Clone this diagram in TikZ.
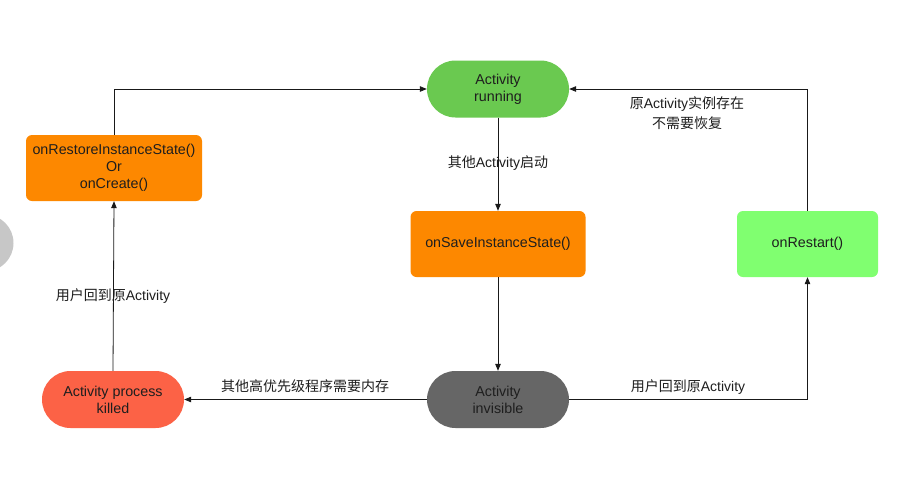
\documentclass[tikz,border=0pt]{standalone}
\usepackage{fontspec}
\setmainfont{Liberation Sans}
\newfontfamily\cjk{Noto Sans CJK SC}
\usetikzlibrary{arrows.meta}
\definecolor{rungreen}{RGB}{106,201,80}
\definecolor{boxorange}{RGB}{253,136,0}
\definecolor{restartgreen}{RGB}{128,255,112}
\definecolor{killred}{RGB}{252,98,70}
\definecolor{invgray}{RGB}{102,102,102}
\definecolor{txt}{RGB}{30,30,30}
\tikzset{
  state/.style={rectangle, rounded corners=28.5pt, minimum width=142pt, minimum height=57pt,
    align=center, inner sep=0pt, font=\fontsize{14.3}{17}\selectfont, text=txt},
  action/.style={rectangle, rounded corners=6pt, minimum height=66pt,
    align=center, inner sep=0pt, font=\fontsize{14.3}{17}\selectfont, text=txt},
  lbl/.style={align=center, inner sep=0pt, font=\fontsize{14}{20}\selectfont, text=txt},
  arr/.style={draw=black!90, line width=0.8pt, -{Triangle[length=7pt,width=5.5pt]}}
}
\begin{document}
\begin{tikzpicture}[x=1pt,y=-1pt]
\useasboundingbox (0,0) rectangle (898,480);
\fill[white] (0,0) rectangle (898,480);
\begin{scope}
\clip (0,0) rectangle (898,480);
\fill[black!22] (-15,243) circle (28.5);
\end{scope}

\node[state, fill=rungreen] (running) at (498,89) {Activity\\running};
\node[action, fill=boxorange, minimum width=176pt] (restore) at (114,168) {onRestoreInstanceState()\\Or\\onCreate()};
\node[action, fill=boxorange, minimum width=175pt] (save) at (498,244) {onSaveInstanceState()};
\node[action, fill=restartgreen, minimum width=141pt] (restart) at (807.5,244) {onRestart()};
\node[state, fill=killred] (killed) at (113,399.5) {Activity process\\killed};
\node[state, fill=invgray] (invisible) at (498,399.5) {Activity\\invisible};

\node[lbl] (l1) at (498,163) {{\cjk 其他}Activity{\cjk 启动}};
\node[lbl] (l2) at (687,113) {{\cjk 原}Activity{\cjk 实例存在}\\{\cjk 不需要恢复}};
\node[lbl] (l3) at (113,296) {{\cjk 用户回到原}Activity};
\node[lbl] (l4) at (305,386) {{\cjk 其他高优先级程序需要内存}};
\node[lbl] (l5) at (688,387) {{\cjk 用户回到原}Activity};

\draw[arr] (restore.north) |- (running.west);
\draw[arr] (running.south) -- (save.north);
\draw[arr] (save.south) -- (invisible.north);
\draw[arr] (invisible.west) -- (killed.east);
\draw[arr] (invisible.east) -| (restart.south);
\draw[arr] (restart.north) |- (running.east);
\draw[arr] (killed.north) -- (restore.south);
\end{tikzpicture}
\end{document}
